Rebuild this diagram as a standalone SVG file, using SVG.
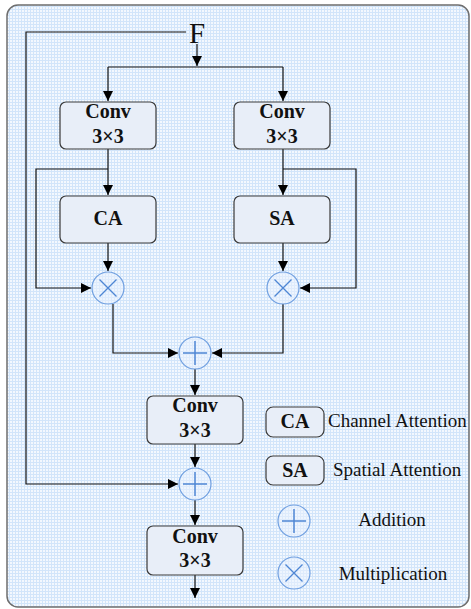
<svg xmlns="http://www.w3.org/2000/svg" width="471" height="609" viewBox="0 0 471 609">
  <defs>
    <pattern id="grid" width="3" height="3" patternUnits="userSpaceOnUse">
      <rect width="3" height="3" fill="#f3f8fe"/>
      <path d="M0 0.5H3M0.5 0V3" stroke="#d2e5fa" stroke-width="1"/>
    </pattern>
    <marker id="arr" viewBox="0 0 10 10" refX="10" refY="5" markerWidth="10" markerHeight="10" markerUnits="userSpaceOnUse" orient="auto">
      <path d="M0 0L10 5L0 10z" fill="#000"/>
    </marker>
    <g id="plus">
      <circle r="16" fill="#e9f2fd" fill-opacity="0.5" stroke="#6f9fe0" stroke-width="1.2"/>
      <path d="M-12 0H12M0 -12V12" stroke="#4f86d4" stroke-width="1.5"/>
    </g>
    <g id="times">
      <circle r="16" fill="#e9f2fd" fill-opacity="0.5" stroke="#6f9fe0" stroke-width="1.2"/>
      <path d="M-8.5 -8.5L8.5 8.5M-8.5 8.5L8.5 -8.5" stroke="#4f86d4" stroke-width="1.3"/>
    </g>
  </defs>
  <style>
    .box { fill: #e8eef8; stroke: #3a3a3a; stroke-width: 1.2; }
    .lbl { font-family: "Liberation Serif", "Times New Roman", serif; font-weight: bold; font-size: 20px; fill: #111; text-anchor: middle; }
    .leg { font-family: "Liberation Serif", "Times New Roman", serif; font-size: 19px; fill: #111; }
    .wire { fill: none; stroke: #111; stroke-width: 1.2; }
  </style>

  <!-- framed grid background -->
  <rect x="7" y="5" width="462" height="602" rx="11" fill="url(#grid)" stroke="#6e6e6e" stroke-width="1.5"/>

  <!-- input label -->
  <text x="197" y="43" font-family="Liberation Serif, serif" font-size="29" fill="#111" text-anchor="middle">F</text>

  <g id="connectors">
    <!-- split of F into two branches -->
    <path class="wire" d="M197 44V66" marker-end="url(#arr)"/>
    <path class="wire" d="M108 67H283"/>
    <path class="wire" d="M108 67V101" marker-end="url(#arr)"/>
    <path class="wire" d="M283 67V101" marker-end="url(#arr)"/>
    <!-- left branch -->
    <path class="wire" d="M108 149V195" marker-end="url(#arr)"/>
    <path class="wire" d="M108 169H36V288H91" marker-end="url(#arr)"/>
    <path class="wire" d="M108 243V271" marker-end="url(#arr)"/>
    <!-- right branch -->
    <path class="wire" d="M283 149V195" marker-end="url(#arr)"/>
    <path class="wire" d="M283 169H356V288H300" marker-end="url(#arr)"/>
    <path class="wire" d="M283 243V271" marker-end="url(#arr)"/>
    <!-- merge -->
    <path class="wire" d="M113 304V353H178" marker-end="url(#arr)"/>
    <path class="wire" d="M283 304V353H212" marker-end="url(#arr)"/>
    <path class="wire" d="M195 369V395" marker-end="url(#arr)"/>
    <!-- residual skip from F -->
    <path class="wire" d="M186 32H26V484H178" marker-end="url(#arr)"/>
    <path class="wire" d="M195 444V467" marker-end="url(#arr)"/>
    <path class="wire" d="M195 500V525" marker-end="url(#arr)"/>
    <path class="wire" d="M195 575V598" marker-end="url(#arr)"/>
  </g>

  <g id="conv1">
    <rect class="box" x="60" y="102" width="96" height="47" rx="6"/>
    <text class="lbl" x="108" y="118">Conv</text>
    <text class="lbl" x="108" y="143">3×3</text>
  </g>
  <g id="conv2">
    <rect class="box" x="234" y="102" width="96" height="47" rx="6"/>
    <text class="lbl" x="282" y="118">Conv</text>
    <text class="lbl" x="282" y="143">3×3</text>
  </g>
  <g id="ca">
    <rect class="box" x="60" y="196" width="96" height="47" rx="6"/>
    <text class="lbl" x="108" y="225">CA</text>
  </g>
  <g id="sa">
    <rect class="box" x="234" y="196" width="96" height="47" rx="6"/>
    <text class="lbl" x="282" y="225">SA</text>
  </g>
  <g id="mul-left"><use href="#times" x="108" y="288"/></g>
  <g id="mul-right"><use href="#times" x="283" y="288"/></g>
  <g id="add1"><use href="#plus" x="195" y="353"/></g>
  <g id="conv3">
    <rect class="box" x="147" y="396" width="96" height="48" rx="6"/>
    <text class="lbl" x="195" y="412">Conv</text>
    <text class="lbl" x="195" y="437">3×3</text>
  </g>
  <g id="add2"><use href="#plus" x="195" y="484"/></g>
  <g id="conv4">
    <rect class="box" x="147" y="526" width="96" height="49" rx="6"/>
    <text class="lbl" x="195" y="543">Conv</text>
    <text class="lbl" x="195" y="567">3×3</text>
  </g>

  <g id="legend">
    <rect class="box" x="266" y="407" width="58" height="30" rx="7"/>
    <text class="lbl" x="295" y="428">CA</text>
    <text class="leg" x="328" y="427">Channel Attention</text>
    <rect class="box" x="266" y="456" width="58" height="29" rx="7"/>
    <text class="lbl" x="295" y="477">SA</text>
    <text class="leg" x="333" y="476">Spatial Attention</text>
    <use href="#plus" x="294" y="521"/>
    <text class="leg" x="392" y="526" text-anchor="middle">Addition</text>
    <use href="#times" x="294" y="573"/>
    <text class="leg" x="393" y="580" text-anchor="middle">Multiplication</text>
  </g>
</svg>
